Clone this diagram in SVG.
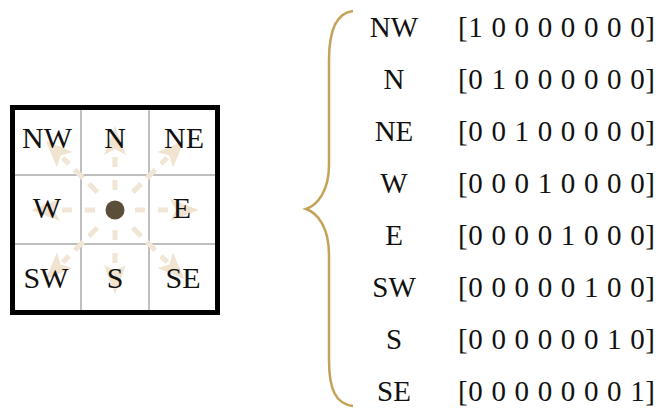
<svg xmlns="http://www.w3.org/2000/svg" width="663" height="408" viewBox="0 0 663 408">
<style>
text{font-family:"Liberation Serif","Times New Roman",serif;fill:#111}
.g{font-size:30px;text-anchor:middle}
.l{font-size:29px;text-anchor:middle}
.v{font-size:29px}
.grid{stroke:#aaaaaa;stroke-width:1.5;fill:none}
.ray{stroke:#f1e6d6;stroke-width:5;fill:none}
.ah{fill:#f0e3d0}
</style>
<defs>
<g id="ortho"><line class="ray" x1="20" y1="0" x2="54" y2="0" stroke-dasharray="10 13"/><path class="ah" d="M84,0 L55,-11 L61,0 L55,11 Z"/></g>
<g id="diag"><line class="ray" x1="25" y1="0" x2="74" y2="0" stroke-dasharray="12 8"/><path class="ah" d="M98,0 L71,-11 L77,0 L71,11 Z"/></g>
</defs>
<g id="grid">
<rect x="12.5" y="107.5" width="205" height="205" fill="#ffffff" stroke="none"/>
<line class="grid" x1="81" y1="107" x2="81" y2="313"/>
<line class="grid" x1="149" y1="107" x2="149" y2="313"/>
<line class="grid" x1="12" y1="175" x2="218" y2="175"/>
<line class="grid" x1="12" y1="244" x2="218" y2="244"/>
</g>
<g id="connectors" transform="translate(115,210)">
<use href="#ortho" transform="rotate(-90)"/>
<use href="#ortho" transform="rotate(0)"/>
<use href="#ortho" transform="rotate(90)"/>
<use href="#ortho" transform="rotate(180)"/>
<use href="#diag" transform="rotate(-135)"/>
<use href="#diag" transform="rotate(-45)"/>
<use href="#diag" transform="rotate(45)"/>
<use href="#diag" transform="rotate(135)"/>
</g>
<g id="center"><circle cx="115" cy="210" r="9.5" fill="#5c4f3a"/></g>
<g id="border"><rect x="12.5" y="107.5" width="205" height="205" fill="none" stroke="#000" stroke-width="5"/></g>
<g id="cell-NW"><text class="g" x="47" y="148">NW</text></g>
<g id="cell-N"><text class="g" x="115" y="148">N</text></g>
<g id="cell-NE"><text class="g" x="184" y="148">NE</text></g>
<g id="cell-W"><text class="g" x="47" y="218">W</text></g>
<g id="cell-E"><text class="g" x="182" y="218">E</text></g>
<g id="cell-SW"><text class="g" x="46" y="288">SW</text></g>
<g id="cell-S"><text class="g" x="115" y="288">S</text></g>
<g id="cell-SE"><text class="g" x="183" y="288">SE</text></g>
<g id="brace"><path d="M353,11 C336,13 329,30 329,60 L329,165 C329,190 318,205 306,209 C318,213 329,228 329,255 L329,360 C329,390 336,404 353,406" fill="none" stroke="#c4a258" stroke-width="2.5"/></g>
<g id="row-NW"><text class="l" x="394" y="37">NW</text><text class="v" x="458" y="37" textLength="197" lengthAdjust="spacing">[1 0 0 0 0 0 0 0]</text></g>
<g id="row-N"><text class="l" x="394" y="89">N</text><text class="v" x="458" y="89" textLength="197" lengthAdjust="spacing">[0 1 0 0 0 0 0 0]</text></g>
<g id="row-NE"><text class="l" x="394" y="141">NE</text><text class="v" x="458" y="141" textLength="197" lengthAdjust="spacing">[0 0 1 0 0 0 0 0]</text></g>
<g id="row-W"><text class="l" x="394" y="193">W</text><text class="v" x="458" y="193" textLength="197" lengthAdjust="spacing">[0 0 0 1 0 0 0 0]</text></g>
<g id="row-E"><text class="l" x="394" y="245">E</text><text class="v" x="458" y="245" textLength="197" lengthAdjust="spacing">[0 0 0 0 1 0 0 0]</text></g>
<g id="row-SW"><text class="l" x="394" y="297">SW</text><text class="v" x="458" y="297" textLength="197" lengthAdjust="spacing">[0 0 0 0 0 1 0 0]</text></g>
<g id="row-S"><text class="l" x="394" y="349">S</text><text class="v" x="458" y="349" textLength="197" lengthAdjust="spacing">[0 0 0 0 0 0 1 0]</text></g>
<g id="row-SE"><text class="l" x="394" y="401">SE</text><text class="v" x="458" y="401" textLength="197" lengthAdjust="spacing">[0 0 0 0 0 0 0 1]</text></g>
</svg>
